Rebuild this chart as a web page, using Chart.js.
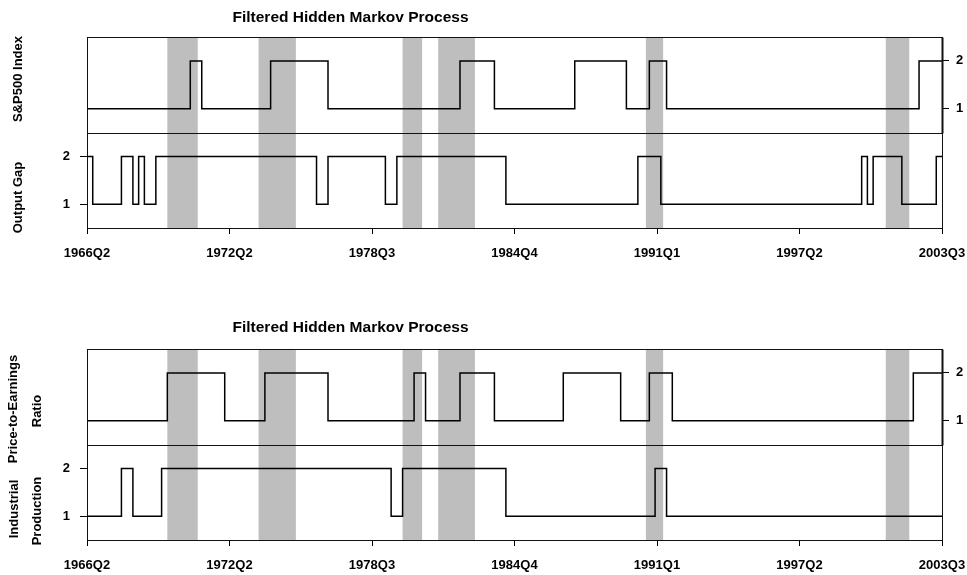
<!DOCTYPE html>
<html>
<head>
<meta charset="utf-8">
<script src="https://cdn.jsdelivr.net/npm/chart.js@4.4.0/dist/chart.umd.min.js"></script>
<style>
  html, body { margin: 0; padding: 0; background: #fff; width: 967px; height: 575px; overflow: hidden; }
  canvas { position: absolute; left: 0; }
  #c1 { top: 0; }
  #c2 { top: 312px; }
</style>
</head>
<body>
<canvas id="c1" width="967" height="263"></canvas>
<canvas id="c2" width="967" height="263"></canvas>
<script>
// Quarter index: 0 = 1966Q2 ... 149 = 2003Q3
const lastQuarter = 149;
const tickLabels = ['1966Q2', '1972Q2', '1978Q3', '1984Q4', '1991Q1', '1997Q2', '2003Q3'];

// Filtered regimes: quarter at which each run starts and the state held from then on
const sp500Start = [0, 18, 20, 32, 42, 65, 71, 85, 94, 98, 101, 145];
const sp500State = [1, 2, 1, 2, 1, 2, 1, 2, 1, 2, 1, 2];

const gapStart = [0, 1, 6, 8, 9, 10, 12, 40, 42, 52, 54, 73, 96, 100, 135, 136, 137, 142, 148];
const gapState = [2, 1, 2, 1, 2, 1, 2, 1, 2, 1, 2, 1, 2, 1, 2, 1, 2, 1, 2];

const peStart = [0, 14, 24, 31, 42, 57, 59, 65, 71, 83, 93, 98, 102, 144];
const peState = [1, 2, 1, 2, 1, 2, 1, 2, 1, 2, 1, 2, 1, 2];

const ipStart = [0, 6, 8, 13, 53, 55, 73, 99, 101];
const ipState = [1, 2, 1, 2, 1, 2, 1, 2, 1];

// Shaded recession periods (quarter index)
const recessionStart = [14.0, 29.9, 55.0, 61.2, 97.4, 139.2];
const recessionEnd   = [19.3, 36.4, 58.4, 67.6, 100.4, 143.3];

const FONT_FAMILY = '"Liberation Sans", Arial, Helvetica, sans-serif';
const tickFont = { family: FONT_FAMILY, size: 13, weight: 'bold' };

function stepPoints(starts, states) {
  const pts = starts.map((q, i) => ({ x: q, y: states[i] }));
  pts.push({ x: lastQuarter, y: states[states.length - 1] });
  return pts;
}

function panelPlugin(cfg) {
  return {
    id: 'panelDecor',
    beforeDatasetsDraw(chart) {
      const { ctx, chartArea: a, scales } = chart;
      ctx.save();
      ctx.fillStyle = '#bebebe';
      recessionStart.forEach((s, i) => {
        const x0 = scales.x.getPixelForValue(s);
        const x1 = scales.x.getPixelForValue(recessionEnd[i]);
        ctx.fillRect(x0, a.top, x1 - x0, a.bottom - a.top);
      });
      ctx.restore();
    },
    afterDatasetsDraw(chart) {
      const { ctx, chartArea: a, scales } = chart;
      const mid = Math.round(scales.yLow.getPixelForValue(2.5)) + 0.5;
      const l = Math.round(a.left) + 0.5, r = Math.round(a.right) + 0.5;
      const t = Math.round(a.top) + 0.5, b = Math.round(a.bottom) + 0.5;
      ctx.save();
      ctx.strokeStyle = '#111';
      ctx.lineWidth = 1;
      ctx.strokeRect(l, t, r - l, b - t);
      ctx.beginPath();
      ctx.moveTo(l, mid); ctx.lineTo(r, mid);
      ctx.stroke();
      // right axis line of the upper panel
      ctx.lineWidth = 2;
      ctx.beginPath();
      ctx.moveTo(r, t); ctx.lineTo(r, mid);
      ctx.stroke();
      ctx.restore();
    },
    afterDraw(chart) {
      const { ctx } = chart;
      ctx.save();
      ctx.fillStyle = '#000';
      ctx.textAlign = 'center';
      ctx.textBaseline = 'middle';
      ctx.font = 'bold 15.5px ' + FONT_FAMILY;
      ctx.fillText(cfg.title, cfg.titleX, cfg.titleY);
      ctx.font = 'bold 13px ' + FONT_FAMILY;
      cfg.axisTitles.forEach(t => {
        ctx.save();
        ctx.translate(t.x, t.y);
        ctx.rotate(-Math.PI / 2);
        ctx.fillText(t.text, 0, 0);
        ctx.restore();
      });
      ctx.restore();
    }
  };
}

function makePanel(canvasId, upper, lower, cfg) {
  return new Chart(document.getElementById(canvasId), {
    type: 'line',
    data: {
      datasets: [
        {
          label: upper.name,
          data: stepPoints(upper.start, upper.state),
          yAxisID: 'yUp',
          stepped: 'before',
          borderColor: '#000',
          borderWidth: 1.5,
          pointRadius: 0,
          fill: false
        },
        {
          label: lower.name,
          data: stepPoints(lower.start, lower.state),
          yAxisID: 'yLow',
          stepped: 'before',
          borderColor: '#000',
          borderWidth: 1.5,
          pointRadius: 0,
          fill: false
        }
      ]
    },
    options: {
      responsive: false,
      animation: false,
      devicePixelRatio: 1,
      layout: { padding: { top: 37, left: 0, right: 0, bottom: 0 } },
      plugins: { legend: { display: false }, tooltip: { enabled: false }, title: { display: false } },
      scales: {
        x: {
          type: 'linear',
          min: 0,
          max: lastQuarter,
          afterBuildTicks: s => {
            s.ticks = tickLabels.map((_, i) => ({ value: i * lastQuarter / (tickLabels.length - 1) }));
          },
          ticks: {
            autoSkip: false,
            maxRotation: 0,
            padding: 12,
            color: '#000',
            font: tickFont,
            callback: (v, i) => tickLabels[i]
          },
          grid: { drawOnChartArea: false, drawTicks: true, tickLength: 6, color: '#000' },
          border: { display: false },
          afterFit: s => {
            s.height = 35;
            s.paddingLeft = 0;
            s.paddingRight = 0;
          }
        },
        yLow: {
          type: 'linear',
          position: 'left',
          min: 0.5,
          max: 4.5,
          afterBuildTicks: s => { s.ticks = [{ value: 1 }, { value: 2 }]; },
          ticks: { padding: 10, color: '#000', font: tickFont, callback: v => String(v) },
          grid: { drawOnChartArea: false, drawTicks: true, tickLength: 7, color: '#000' },
          border: { display: false },
          afterFit: s => { s.width = 87; }
        },
        yUp: {
          type: 'linear',
          position: 'right',
          min: -1.5,
          max: 2.5,
          afterBuildTicks: s => { s.ticks = [{ value: 1 }, { value: 2 }]; },
          ticks: { padding: 7, color: '#000', font: tickFont, callback: v => String(v) },
          grid: { drawOnChartArea: false, drawTicks: true, tickLength: 7, color: '#000' },
          border: { display: false },
          afterFit: s => { s.width = 25; }
        }
      }
    },
    plugins: [panelPlugin(cfg)]
  });
}

makePanel('c1',
  { name: 'S&P500 Index', start: sp500Start, state: sp500State },
  { name: 'Output Gap', start: gapStart, state: gapState },
  {
    title: 'Filtered Hidden Markov Process', titleX: 350.5, titleY: 18,
    axisTitles: [
      { text: 'S&P500 Index', x: 18.5, y: 79 },
      { text: 'Output Gap', x: 18, y: 197.5 }
    ]
  });

makePanel('c2',
  { name: 'Price-to-Earnings Ratio', start: peStart, state: peState },
  { name: 'Industrial Production', start: ipStart, state: ipState },
  {
    title: 'Filtered Hidden Markov Process', titleX: 350.5, titleY: 16,
    axisTitles: [
      { text: 'Price-to-Earnings', x: 13.5, y: 97 },
      { text: 'Ratio', x: 37, y: 99 },
      { text: 'Industrial', x: 14, y: 197 },
      { text: 'Production', x: 37, y: 199 }
    ]
  });
</script>
</body>
</html>
